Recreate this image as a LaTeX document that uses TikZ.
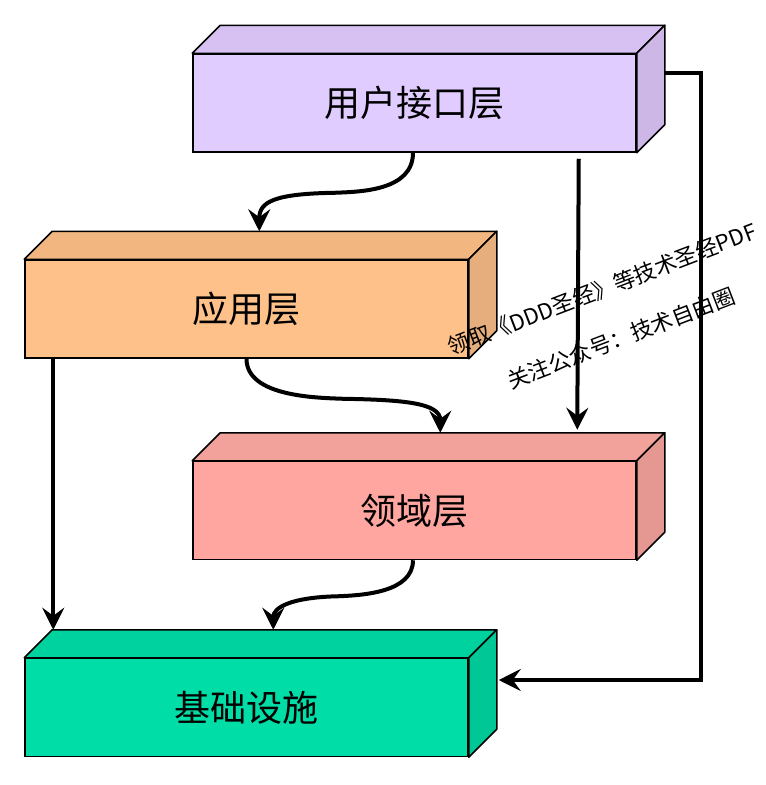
\documentclass[tikz,border=0pt]{standalone}
\usepackage{fontspec}
\setmainfont{Noto Sans CJK SC}
\usetikzlibrary{calc,arrows.meta}
\definecolor{pF}{HTML}{E1CCFF}\definecolor{pT}{HTML}{D6C1F2}\definecolor{pS}{HTML}{CCB7E6}
\definecolor{oF}{HTML}{FFC18A}\definecolor{oT}{HTML}{F2B680}\definecolor{oS}{HTML}{E6AE7C}
\definecolor{rF}{HTML}{FFA6A1}\definecolor{rT}{HTML}{F2A19B}\definecolor{rS}{HTML}{E59792}
\definecolor{gF}{HTML}{00DDA6}\definecolor{gT}{HTML}{00D29F}\definecolor{gS}{HTML}{00C796}
\begin{document}
\begin{tikzpicture}[x=1pt,y=-1pt,
  layer/.style={draw=black,line width=1.5pt,minimum width=443pt,minimum height=98pt,inner sep=0pt,font=\fontsize{36}{40}\selectfont},
  facet/.style={draw=black,line width=1.5pt,line join=round},
  conn/.style={draw=black,line width=4pt,-{Stealth[length=22pt,width=22pt,inset=8pt]}},
  wm/.style={font=\fontsize{22}{26}\selectfont,rotate=21,inner sep=0pt}]
\useasboundingbox (0,0) rectangle (766,785);
\newcommand{\cuboid}[5]{%
  \node[layer,fill=#3] (#1) at (#2) {#4};
  \draw[facet,fill=#5] (#1.north west) -- ++(28,-28) -- ($(#1.north east)+(28,-28)$) -- (#1.north east) -- cycle;
}
\newcommand{\cuboidside}[2]{%
  \draw[facet,fill=#2] (#1.north east) -- ++(28,-28) -- ($(#1.south east)+(28,-28)$) -- (#1.south east) -- cycle;
}
\cuboid{b1}{414.5,103}{pF}{用户接口层}{pT}\cuboidside{b1}{pS}
\cuboid{b2}{246.5,309}{oF}{应用层}{oT}\cuboidside{b2}{oS}
\cuboid{b3}{414.5,510.5}{rF}{领域层}{rT}\cuboidside{b3}{rS}
\cuboid{b4}{246.5,707.5}{gF}{基础设施}{gT}\cuboidside{b4}{gS}
% connectors
\draw[conn] ($(b1.south)+(-1.5,0)$) .. controls +(0,38) and +(25,-1) .. ($(b1.south west)+(143,40)$) .. controls +(-60,1) and +(0,-30) .. ($(b2.north west)+(235,-28)$);
\draw[conn] (b2.south) .. controls +(0,38) and +(-25,-1) .. ($(b2.south west)+(318,40)$) .. controls +(60,1) and +(0,-30) .. ($(b3.north west)+(248,-28)$);
\draw[conn] ($(b3.south)+(-1.5,0)$) .. controls +(0,32) and +(25,-1) .. ($(b3.south west)+(146,36)$) .. controls +(-48,1) and +(0,-22) .. ($(b4.north west)+(249,-28)$);
\draw[conn] ($(b1.south east)+(-58,6)$) -- ($(b3.north west)+(385,-31)$);
\draw[conn] ($(b2.south west)+(29,0)$) -- ($(b4.north west)+(29,-28)$);
\draw[conn,line join=miter] ($(b1.north east)+(28,20)$) -- ++(36,0) |- ($(b4.east)+(30,-27.5)$);
% watermark
\node[wm] (w1) at (602,289) {领取《DDD圣经》等技术圣经PDF};
\node[wm] (w2) at (621,338) {关注公众号：技术自由圈};
\end{tikzpicture}
\end{document}
